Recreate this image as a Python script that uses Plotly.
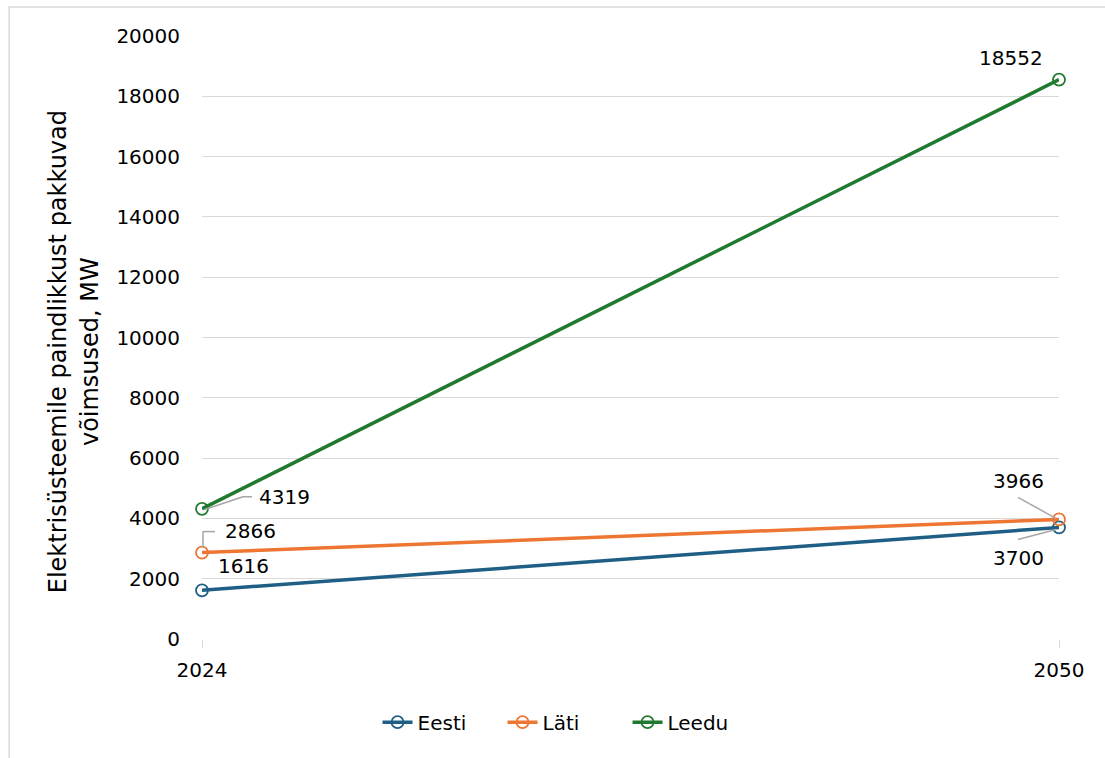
import plotly.graph_objects as go

years = [2024, 2050]
series_names = ["Eesti", "Läti", "Leedu"]
eesti = [1616, 3700]
lati = [2866, 3966]
leedu = [4319, 18552]
colors = ["#1F5F85", "#EE7633", "#1F7A30"]
y_ticks = [0, 2000, 4000, 6000, 8000, 10000, 12000, 14000, 16000, 18000, 20000]
y_title = "Elektrisüsteemile paindlikkust pakkuvad<br>võimsused, MW"

FONT = "DejaVu Sans"
FS = 20
fig = go.Figure()
for name, vals, col in zip(series_names, [eesti, lati, leedu], colors):
    fig.add_trace(go.Scatter(
        x=years, y=vals, name=name, mode="lines+markers",
        line=dict(color=col, width=3.5),
        marker=dict(symbol="circle-open", size=12, color=col, line=dict(width=1.8, color=col)),
        cliponaxis=False,
    ))

# data labels: (x, y, text, xshift, yshift)
labels = [
    (years[0], leedu[0], leedu[0], 82, 12),
    (years[0], lati[0], lati[0], 48, 22),
    (years[0], eesti[0], eesti[0], 41, 24),
    (years[1], leedu[1], leedu[1], -48, 22),
    (years[1], lati[1], lati[1], -41, 38),
    (years[1], eesti[1], eesti[1], -41, -31),
]
for x, y, t, dx, dy in labels:
    fig.add_annotation(x=x, y=y, text=str(t), showarrow=False, xshift=dx, yshift=dy,
                       font=dict(family=FONT, size=FS, color="#000000"))

# leader lines in pixel offsets from the data point
leaders = [
    (years[0], leedu[0], [(2, -1), (41, 12), (50, 12)]),
    (years[0], lati[0], [(1, 5), (1, 21), (13, 21)]),
    (years[1], lati[1], [(-3, 1), (-41, 22)]),
    (years[1], eesti[1], [(-3, -2), (-41, -12)]),
]
for x, y, pts in leaders:
    for (x0, y0), (x1, y1) in zip(pts[:-1], pts[1:]):
        fig.add_shape(type="line", xref="x", yref="y", xsizemode="pixel", ysizemode="pixel",
                      xanchor=x, yanchor=y, x0=x0, y0=y0, x1=x1, y1=y1,
                      line=dict(color="#A6A6A6", width=1.5))

# outer chart border
fig.add_shape(type="rect", xref="paper", yref="paper", x0=-0.225, x1=1.2, y0=-0.3, y1=1.048,
              line=dict(color="#D9D9D9", width=1.5), fillcolor="rgba(0,0,0,0)", layer="below")

# y-axis title
fig.add_annotation(xref="paper", yref="paper", x=-0.149, y=0.476, text=y_title, showarrow=False,
                   textangle=-90, xanchor="center", yanchor="middle",
                   font=dict(family=FONT, size=24, color="#000000"))

fig.update_layout(
    width=1105, height=758,
    margin=dict(l=202, r=46, t=36, b=119),
    paper_bgcolor="white", plot_bgcolor="white",
    font=dict(family=FONT, size=FS, color="#000000"),
    showlegend=True,
    legend=dict(orientation="h", x=0.4236, xanchor="center", y=-0.138, yanchor="middle",
                font=dict(family=FONT, size=FS), tracegroupgap=0, entrywidth=80),
    xaxis=dict(range=[2024, 2050], tickvals=years, ticktext=[str(v) for v in years],
               showgrid=True, gridcolor="#D9D9D9", gridwidth=1.3,
               showline=False, zeroline=False, ticks="outside", ticklen=8, tickcolor="#D9D9D9",
               tickfont=dict(family=FONT, size=FS), ticklabelstandoff=5),
    yaxis=dict(range=[0, 20000], tickvals=y_ticks, ticktext=[str(v) for v in y_ticks],
               showgrid=True, gridcolor="#D9D9D9", gridwidth=1.3,
               zeroline=False, showline=False, ticks="", ticklabelstandoff=21,
               tickfont=dict(family=FONT, size=FS)),
)

fig.write_html("out.html")
